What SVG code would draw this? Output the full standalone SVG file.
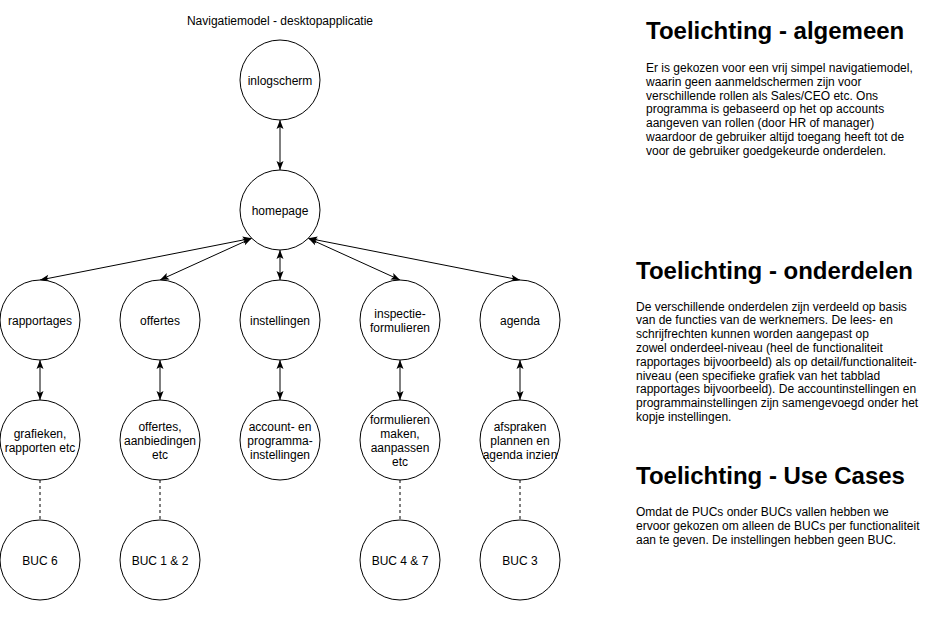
<svg xmlns="http://www.w3.org/2000/svg" width="931" height="635" viewBox="0 0 931 635">
<style>
.n ellipse{fill:#fff;stroke:#000;stroke-width:1}
.n text,.t{font-family:"Liberation Sans",Arial,sans-serif;font-size:12px;fill:#000;text-anchor:middle}
.c line{stroke:#000;stroke-width:1;fill:none}
.c .a{marker-start:url(#arr);marker-end:url(#arr)}
.c .d{stroke-dasharray:3 3}
.h{font-family:"Liberation Sans",Arial,sans-serif;font-size:24px;font-weight:bold;fill:#000}
.b{font-family:"Liberation Sans",Arial,sans-serif;font-size:12px;fill:#000}
</style>
<defs>
<marker id="arr" markerUnits="userSpaceOnUse" markerWidth="12" markerHeight="10" viewBox="0 0 12 10" refX="10" refY="5" orient="auto-start-reverse">
<path d="M1,1.5 L10,5 L1,8.5 L3,5 Z" fill="#000"/>
</marker>
</defs>
<rect width="931" height="635" fill="#fff"/>
<text class="t" x="280" y="24.5">Navigatiemodel - desktopapplicatie</text>

<g class="c" id="connectors">
<line class="a" x1="280" y1="120" x2="280" y2="170"/>
<line class="a" x1="251.7" y1="238.3" x2="40" y2="280"/>
<line class="a" x1="251.7" y1="238.3" x2="160" y2="280"/>
<line class="a" x1="280" y1="250" x2="280" y2="280"/>
<line class="a" x1="308.3" y1="238.3" x2="400" y2="280"/>
<line class="a" x1="308.3" y1="238.3" x2="520" y2="280"/>
<line class="a" x1="40" y1="360" x2="40" y2="400"/>
<line class="a" x1="160" y1="360" x2="160" y2="400"/>
<line class="a" x1="280" y1="360" x2="280" y2="400"/>
<line class="a" x1="400" y1="360" x2="400" y2="400"/>
<line class="a" x1="520" y1="360" x2="520" y2="400"/>
<line class="d" x1="40" y1="480" x2="40" y2="520"/>
<line class="d" x1="160" y1="480" x2="160" y2="520"/>
<line class="d" x1="400" y1="480" x2="400" y2="520"/>
<line class="d" x1="520" y1="480" x2="520" y2="520"/>
</g>

<g class="n" id="inlogscherm"><ellipse cx="280" cy="80" rx="40" ry="40"/><text x="280" y="84.5">inlogscherm</text></g>
<g class="n" id="homepage"><ellipse cx="280" cy="210" rx="40" ry="40"/><text x="280" y="214.5">homepage</text></g>

<g class="n" id="rapportages"><ellipse cx="40" cy="320" rx="40" ry="40"/><text x="40" y="324.5">rapportages</text></g>
<g class="n" id="offertes"><ellipse cx="160" cy="320" rx="40" ry="40"/><text x="160" y="324.5">offertes</text></g>
<g class="n" id="instellingen"><ellipse cx="280" cy="320" rx="40" ry="40"/><text x="280" y="324.5">instellingen</text></g>
<g class="n" id="inspectieformulieren"><ellipse cx="400" cy="320" rx="40" ry="40"/><text x="400" y="317.5">inspectie-<tspan x="400" dy="14">formulieren</tspan></text></g>
<g class="n" id="agenda"><ellipse cx="520" cy="320" rx="40" ry="40"/><text x="520" y="324.5">agenda</text></g>

<g class="n" id="grafieken"><ellipse cx="40" cy="440" rx="40" ry="40"/><text x="40" y="437.5">grafieken,<tspan x="40" dy="14">rapporten etc</tspan></text></g>
<g class="n" id="offertesdetail"><ellipse cx="160" cy="440" rx="40" ry="40"/><text x="160" y="430.5">offertes,<tspan x="160" dy="14">aanbiedingen</tspan><tspan x="160" dy="14">etc</tspan></text></g>
<g class="n" id="accountinstellingen"><ellipse cx="280" cy="440" rx="40" ry="40"/><text x="280" y="430.5">account- en<tspan x="280" dy="14">programma-</tspan><tspan x="280" dy="14">instellingen</tspan></text></g>
<g class="n" id="formulieren"><ellipse cx="400" cy="440" rx="40" ry="40"/><text x="400" y="423.5">formulieren<tspan x="400" dy="14">maken,</tspan><tspan x="400" dy="14">aanpassen</tspan><tspan x="400" dy="14">etc</tspan></text></g>
<g class="n" id="afspraken"><ellipse cx="520" cy="440" rx="40" ry="40"/><text x="520" y="430.5">afspraken<tspan x="520" dy="14">plannen en</tspan><tspan x="520" dy="14">agenda inzien</tspan></text></g>

<g class="n" id="buc6"><ellipse cx="40" cy="560" rx="40" ry="40"/><text x="40" y="564.5">BUC 6</text></g>
<g class="n" id="buc12"><ellipse cx="160" cy="560" rx="40" ry="40"/><text x="160" y="564.5">BUC 1 &amp; 2</text></g>
<g class="n" id="buc47"><ellipse cx="400" cy="560" rx="40" ry="40"/><text x="400" y="564.5">BUC 4 &amp; 7</text></g>
<g class="n" id="buc3"><ellipse cx="520" cy="560" rx="40" ry="40"/><text x="520" y="564.5">BUC 3</text></g>

<g id="toelichting-algemeen">
<text class="h" x="646" y="39">Toelichting - algemeen</text>
<text class="b" x="646" y="72">Er is gekozen voor een vrij simpel navigatiemodel,<tspan x="646" dy="13.8">waarin geen aanmeldschermen zijn voor</tspan><tspan x="646" dy="13.8">verschillende rollen als Sales/CEO etc. Ons</tspan><tspan x="646" dy="13.8">programma is gebaseerd op het op accounts</tspan><tspan x="646" dy="13.8">aangeven van rollen (door HR of manager)</tspan><tspan x="646" dy="13.8">waardoor de gebruiker altijd toegang heeft tot de</tspan><tspan x="646" dy="13.8">voor de gebruiker goedgekeurde onderdelen.</tspan></text>
</g>
<g id="toelichting-onderdelen">
<text class="h" x="636" y="279">Toelichting - onderdelen</text>
<text class="b" x="636" y="310.5">De verschillende onderdelen zijn verdeeld op basis<tspan x="636" dy="13.8">van de functies van de werknemers. De lees- en</tspan><tspan x="636" dy="13.8">schrijfrechten kunnen worden aangepast op</tspan><tspan x="636" dy="13.8">zowel onderdeel-niveau (heel de functionaliteit</tspan><tspan x="636" dy="13.8">rapportages bijvoorbeeld) als op detail/functionaliteit-</tspan><tspan x="636" dy="13.8">niveau (een specifieke grafiek van het tabblad</tspan><tspan x="636" dy="13.8">rapportages bijvoorbeeld). De accountinstellingen en</tspan><tspan x="636" dy="13.8">programmainstellingen zijn samengevoegd onder het</tspan><tspan x="636" dy="13.8">kopje instellingen.</tspan></text>
</g>
<g id="toelichting-usecases">
<text class="h" x="636" y="484">Toelichting - Use Cases</text>
<text class="b" x="636" y="516">Omdat de PUCs onder BUCs vallen hebben we<tspan x="636" dy="13.8">ervoor gekozen om alleen de BUCs per functionaliteit</tspan><tspan x="636" dy="13.8">aan te geven. De instellingen hebben geen BUC.</tspan></text>
</g>
</svg>
